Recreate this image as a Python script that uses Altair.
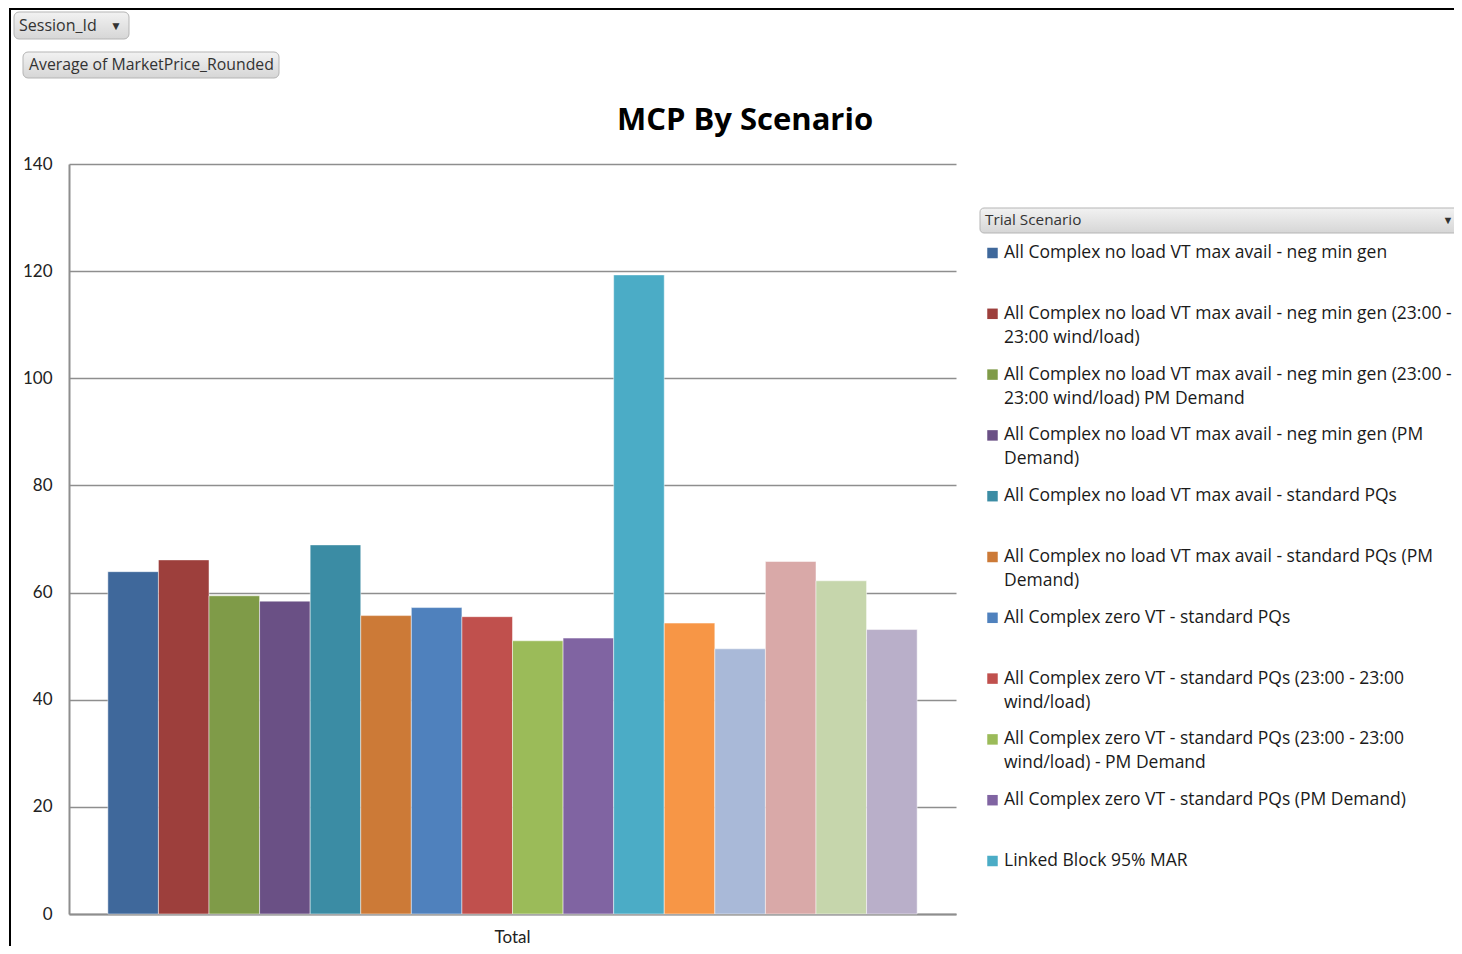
import altair as alt
import pandas as pd

FONT = "Lato"
LFONT = "Open Sans"

# ---------------- data ----------------
group = ["Total"] * 16
scenario_idx = list(range(16))
mcp_values = [63.9, 66.1, 59.4, 58.4, 68.9, 55.7, 57.2, 55.5,
              51.0, 51.5, 119.3, 54.3, 49.5, 65.8, 62.2, 53.1]
bar_colors = ["#3F689B", "#9D3F3C", "#7F9B48", "#6A5085", "#3B8CA4", "#CC7A37",
              "#4F81BD", "#C0504D", "#9BBB59", "#8064A2", "#4BACC6", "#F79646",
              "#A9B9D8", "#D9A9A8", "#C6D6AC", "#B9AFC9"]
legend_labels = [
    "All Complex no load VT max avail - neg min gen",
    "All Complex no load VT max avail - neg min gen (23:00 -\n23:00 wind/load)",
    "All Complex no load VT max avail - neg min gen (23:00 -\n23:00 wind/load) PM Demand",
    "All Complex no load VT max avail - neg min gen (PM\nDemand)",
    "All Complex no load VT max avail - standard PQs",
    "All Complex no load VT max avail - standard PQs (PM\nDemand)",
    "All Complex zero VT - standard PQs",
    "All Complex zero VT - standard PQs (23:00 - 23:00\nwind/load)",
    "All Complex zero VT - standard PQs (23:00 - 23:00\nwind/load) - PM Demand",
    "All Complex zero VT - standard PQs (PM Demand)",
    "Linked Block 95% MAR",
]
y_ticks = [0, 20, 40, 60, 80, 100, 120, 140]

bars_df = pd.DataFrame({"group": group, "idx": scenario_idx, "value": mcp_values})

leg_rows = []
for i, lab in enumerate(legend_labels):
    for j, line in enumerate(lab.split("\n")):
        leg_rows.append({"entry": i, "line": j, "text": line, "idx": i})
leg_df = pd.DataFrame(leg_rows)
sq_df = pd.DataFrame({"entry": list(range(len(legend_labels))),
                      "idx": list(range(len(legend_labels)))})
one = pd.DataFrame({"k": [0]})

color_scale = alt.Scale(domain=scenario_idx, range=bar_colors)
GRID = "#8E8E8E"

# ---------------- bars ----------------
bars = alt.Chart(bars_df).mark_bar(stroke="white", strokeWidth=0.8, strokeOpacity=0.6).encode(
    x=alt.X("group:N", title=None,
            scale=alt.Scale(paddingInner=0, paddingOuter=0.048),
            axis=alt.Axis(labelAngle=0, labelFont=FONT, labelFontSize=17, labelColor="#222222",
                          labelPadding=15, ticks=False, domainColor=GRID, domainWidth=2)),
    xOffset=alt.XOffset("idx:N", scale=alt.Scale(paddingInner=0, paddingOuter=0)),
    y=alt.Y("value:Q", title=None,
            scale=alt.Scale(domain=[0, 140], nice=False),
            axis=alt.Axis(values=y_ticks, labelFont=FONT, labelFontSize=17, labelColor="#222222",
                          labelPadding=17, ticks=False, domainColor=GRID, domainWidth=2,
                          grid=True, gridColor=GRID, gridWidth=1.6)),
    color=alt.Color("idx:N", scale=color_scale, legend=None),
)

# ---------------- title ----------------
title = alt.Chart(one).mark_text(text="MCP By Scenario", font=LFONT, fontSize=31, fontWeight="bold",
                                 align="center", baseline="middle", color="black").encode(
    x=alt.value(676), y=alt.value(-43))

# ---------------- legend ----------------
leg_y = alt.Scale(domain=[0, 10], range=[89, 697])
leg_text = alt.Chart(leg_df).transform_calculate(
    pos="datum.entry + datum.line * 24 / 60.8"
).mark_text(align="left", baseline="middle", font=LFONT, fontSize=17.5, color="#1A1A1A").encode(
    x=alt.value(935),
    y=alt.Y("pos:Q", scale=leg_y, axis=None),
    text="text:N",
)
leg_sq = alt.Chart(sq_df).mark_point(shape="square", filled=True, size=110, opacity=1).encode(
    x=alt.value(923.5),
    y=alt.Y("entry:Q", scale=leg_y, axis=None),
    color=alt.Color("idx:N", scale=color_scale, legend=None),
)

# ---------------- pivot-table buttons ----------------
grad = alt.Gradient(gradient="linear", x1=0, x2=0, y1=0, y2=1,
                    stops=[alt.GradientStop(color="#F2F2F2", offset=0),
                           alt.GradientStop(color="#D6D6D6", offset=1)])


def button(x0, x1, y0, y1, radius=5):
    return alt.Chart(one).mark_rect(fill=grad, stroke="#B5B5B5", strokeWidth=1,
                                    cornerRadius=radius).encode(
        x=alt.value(x0), x2=alt.value(x1), y=alt.value(y0), y2=alt.value(y1))


def label(txt, x, y, size=15.5, align="left"):
    return alt.Chart(one).mark_text(text=txt, font=LFONT, fontSize=size, color="#333333",
                                    align=align, baseline="middle").encode(
        x=alt.value(x), y=alt.value(y))


b1 = button(-55, 60, -152, -125)
t1 = label("Session_Id", -50, -138, size=16)
a1 = label("▼", 47, -138, size=12, align="center")
b2 = button(-46, 210, -112, -86)
t2 = label("Average of MarketPrice_Rounded", -40, -99, size=15.8)
b3 = button(911, 1400, 44, 69, radius=4)
t3 = label("Trial Scenario", 916, 56, size=15.3)
a3 = label("▼", 1379, 57, size=11, align="center")

# ---------------- frame lines ----------------
left_border = alt.Chart(one).mark_rule(color="black", strokeWidth=2).encode(
    x=alt.value(-59), y=alt.value(-160), y2=alt.value(790))
top_border = alt.Chart(one).mark_rule(color="black", strokeWidth=2).encode(
    x=alt.value(-60), x2=alt.value(1400), y=alt.value(-155))

chart = alt.layer(
    bars, title, leg_sq, leg_text, b1, t1, a1, b2, t2, b3, t3, a3, left_border, top_border
).resolve_scale(
    y="independent"
).properties(
    width=887, height=750,
    autosize=alt.AutoSizeParams(type="none"),
    padding={"left": 61, "top": 156, "right": 498, "bottom": 32},
    background="white",
).configure_view(stroke=None)

chart.save("out.html", embed_options={"renderer": "svg", "actions": False})
